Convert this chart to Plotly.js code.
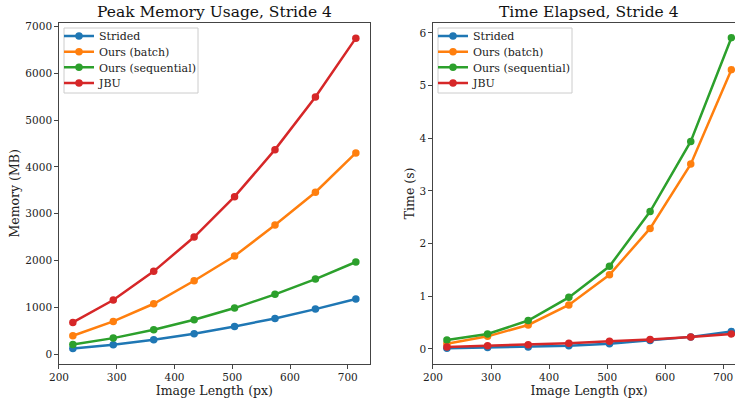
<!DOCTYPE html>
<html>
<head>
<meta charset="utf-8">
<script src="https://cdn.plot.ly/plotly-3.0.1.min.js"></script>
<style>
html, body { margin: 0; padding: 0; overflow: hidden; background: #fff; }
#chart { width: 750px; height: 398px; }
</style>
</head>
<body>
<div id="chart"></div>
<script>
// Data
const imageLength = [224, 294, 364, 434, 504, 574, 644, 714];
const seriesNames = ["Strided", "Ours (batch)", "Ours (sequential)", "JBU"];

const memStrided = [121, 199, 306, 434, 592, 763, 962, 1176];
const memBatch = [392, 699, 1076, 1568, 2096, 2759, 3458, 4299];
const memSequential = [207, 342, 520, 734, 984, 1277, 1604, 1968];
const memJBU = [678, 1155, 1768, 2502, 3364, 4369, 5496, 6751];

const timeStrided = [0.013, 0.03, 0.04, 0.06, 0.10, 0.16, 0.23, 0.33];
const timeBatch = [0.10, 0.24, 0.456, 0.836, 1.41, 2.29, 3.51, 5.30];
const timeSequential = [0.17, 0.285, 0.54, 0.98, 1.57, 2.61, 3.94, 5.91];
const timeJBU = [0.04, 0.06, 0.08, 0.11, 0.145, 0.18, 0.23, 0.285];

const colors = ["#1f77b4", "#ff7f0e", "#2ca02c", "#d62728"];
const memSeries = [memStrided, memBatch, memSequential, memJBU];
const timeSeries = [timeStrided, timeBatch, timeSequential, timeJBU];

const W = 750, H = 398;
const font = "DejaVu Serif, Liberation Serif, serif";

// legend item rows (px from top) and box geometry
const legendRows = [36, 51.7, 67.3, 83];
const legendFont = {family: font, size: 11, color: "#222"};

const traces = [];
memSeries.forEach((ys, i) => {
  traces.push({
    x: imageLength, y: ys, name: seriesNames[i], type: "scatter", mode: "lines+markers",
    xaxis: "x", yaxis: "y", legend: i === 0 ? "legend" : "legend" + (i + 1), showlegend: true,
    line: {color: colors[i], width: 2.5}, marker: {color: colors[i], size: 7.5}
  });
});
timeSeries.forEach((ys, i) => {
  traces.push({
    x: imageLength, y: ys, name: seriesNames[i], type: "scatter", mode: "lines+markers",
    xaxis: "x2", yaxis: "y2", legend: "legend" + (i + 5), showlegend: true,
    line: {color: colors[i], width: 2.5}, marker: {color: colors[i], size: 7.5}
  });
});

const axisCommon = {
  showgrid: false, zeroline: false, showline: true, mirror: true,
  linecolor: "#444", linewidth: 1, ticks: "outside", ticklen: 3.5, tickwidth: 1,
  tickcolor: "#444", tickfont: {family: font, size: 10.5, color: "#222"},
  automargin: false
};

const plotTop = 22.7, plotBottom = 364;
const yDom = [1 - plotBottom / H, 1 - plotTop / H];
const x1Dom = [58.7 / W, 370 / W];
const x2Dom = [432.7 / W, 745.6 / W];

const layout = {
  width: W, height: H,
  showlegend: true,
  margin: {l: 0, r: 0, t: 0, b: 0},
  paper_bgcolor: "#fff", plot_bgcolor: "#fff",
  font: {family: font, color: "#222"},
  xaxis: Object.assign({}, axisCommon, {
    domain: x1Dom, range: [199.5, 738.5], dtick: 100, anchor: "y",
    title: {text: "Image Length (px)", font: {family: font, size: 12.5, color: "#222"}, standoff: 2}
  }),
  yaxis: Object.assign({}, axisCommon, {
    domain: yDom, range: [-211, 7081], dtick: 1000, anchor: "x",
    title: {text: "Memory (MB)", font: {family: font, size: 12.5, color: "#222"}, standoff: 2}
  }),
  xaxis2: Object.assign({}, axisCommon, {
    domain: x2Dom, range: [199.5, 738.5], dtick: 100, anchor: "y2",
    title: {text: "Image Length (px)", font: {family: font, size: 12.5, color: "#222"}, standoff: 2}
  }),
  yaxis2: Object.assign({}, axisCommon, {
    domain: yDom, range: [-0.285, 6.195], dtick: 1, anchor: "x2",
    title: {text: "Time (s)", font: {family: font, size: 12.5, color: "#222"}, standoff: 2}
  }),
  shapes: [
    {type: "rect", xref: "paper", yref: "paper", layer: "above",
     x0: 64 / W, x1: 198 / W, y0: 1 - 93 / H, y1: 1 - 28 / H,
     fillcolor: "rgba(255,255,255,0.9)", line: {color: "#ccc", width: 1}},
    {type: "rect", xref: "paper", yref: "paper", layer: "above",
     x0: 438 / W, x1: 572 / W, y0: 1 - 93 / H, y1: 1 - 28 / H,
     fillcolor: "rgba(255,255,255,0.9)", line: {color: "#ccc", width: 1}}
  ],
  annotations: [
    {text: "Peak Memory Usage, Stride 4", xref: "paper", yref: "paper",
     x: (x1Dom[0] + x1Dom[1]) / 2, y: yDom[1], xanchor: "center", yanchor: "bottom",
     yshift: 0, showarrow: false, font: {family: font, size: 15.5, color: "#111"}},
    {text: "Time Elapsed, Stride 4", xref: "paper", yref: "paper",
     x: (x2Dom[0] + x2Dom[1]) / 2, y: yDom[1], xanchor: "center", yanchor: "bottom",
     yshift: 0, showarrow: false, font: {family: font, size: 15.5, color: "#111"}}
  ]
};

// one legend per entry so rows can be spaced like the reference
for (let k = 0; k < 8; k++) {
  const key = k === 0 ? "legend" : "legend" + (k + 1);
  const row = legendRows[k % 4];
  const lx = k < 4 ? 59 : 433;
  layout[key] = {
    visible: true,
    x: lx / W, y: 1 - row / H, xanchor: "left", yanchor: "middle",
    bgcolor: "rgba(0,0,0,0)", borderwidth: 0, font: legendFont, itemwidth: 30
  };
}

Plotly.newPlot("chart", traces, layout, {displayModeBar: false, staticPlot: true});
</script>
</body>
</html>
